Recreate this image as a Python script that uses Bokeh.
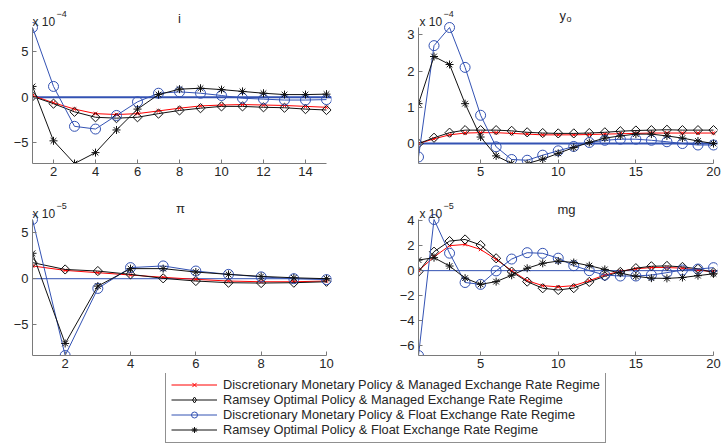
from bokeh.plotting import figure
from bokeh.layouts import column, row
from bokeh.models import Range1d, FixedTicker, Span, Label, Legend, LegendItem
from bokeh.embed import file_html
from bokeh.resources import INLINE

# ---------------- data ----------------
series_names = [
    "Discretionary Monetary Policy & Managed Exchange Rate Regime",
    "Ramsey Optimal Policy & Managed Exchange Rate Regime",
    "Discretionary Monetary Policy & Float Exchange Rate Regime",
    "Ramsey Optimal Policy & Float Exchange Rate Regime",
]

# panel "i"  (x 10^-4)
i_x = list(range(1, 16))
i_disc_managed = [0.2, -0.6, -1.3, -1.8, -1.9, -1.8, -1.5, -1.2, -0.95, -0.85, -0.8, -0.85, -0.9, -1.0, -1.1]
i_ramsey_managed = [0.1, -0.7, -1.6, -2.2, -2.3, -2.2, -1.8, -1.45, -1.2, -1.0, -1.0, -1.1, -1.15, -1.3, -1.4]
i_disc_float = [7.7, 1.2, -3.2, -3.5, -2.0, -0.5, 0.45, 0.6, 0.45, 0.2, -0.1, -0.2, -0.3, -0.3, -0.25]
i_ramsey_float = [1.2, -4.8, -7.3, -6.1, -3.6, -1.3, 0.3, 0.9, 1.0, 0.85, 0.65, 0.45, 0.3, 0.3, 0.35]
i_xticks = [2, 4, 6, 8, 10, 12, 14]
i_yticks = [-5, 0, 5]

# panel "y_o"  (x 10^-4)
yo_x = list(range(1, 21))
yo_disc_managed = [0.0, 0.13, 0.24, 0.29, 0.3, 0.3, 0.28, 0.26, 0.24, 0.24, 0.24, 0.25, 0.26, 0.27, 0.28, 0.29, 0.29, 0.29, 0.29, 0.29]
yo_ramsey_managed = [0.0, 0.16, 0.3, 0.37, 0.37, 0.37, 0.35, 0.31, 0.29, 0.28, 0.28, 0.29, 0.31, 0.34, 0.36, 0.37, 0.38, 0.37, 0.37, 0.37]
yo_disc_float = [-0.37, 2.7, 3.2, 2.1, 0.78, -0.09, -0.44, -0.46, -0.32, -0.2, -0.08, 0.03, 0.09, 0.12, 0.12, 0.09, 0.05, 0.0, -0.04, -0.04]
yo_ramsey_float = [1.1, 2.4, 2.18, 1.1, 0.18, -0.34, -0.55, -0.55, -0.43, -0.27, -0.11, 0.03, 0.15, 0.21, 0.26, 0.26, 0.21, 0.15, 0.07, 0.0]
yo_xticks = [5, 10, 15, 20]
yo_yticks = [0, 1, 2, 3]

# panel "pi"  (x 10^-5)
pi_x = list(range(1, 11))
pi_disc_managed = [1.38, 0.9, 0.65, 0.4, 0.15, -0.07, -0.25, -0.33, -0.33, -0.25]
pi_ramsey_managed = [1.74, 1.0, 0.83, 0.47, 0.04, -0.25, -0.43, -0.47, -0.43, -0.33]
pi_disc_float = [6.4, -8.3, -1.05, 1.2, 1.38, 0.83, 0.47, 0.2, 0.0, -0.1]
pi_ramsey_float = [2.75, -7.0, -0.8, 1.09, 1.09, 0.72, 0.47, 0.25, 0.1, 0.0]
pi_xticks = [2, 4, 6, 8, 10]
pi_yticks = [-5, 0, 5]

# panel "mg"  (x 10^-5)
mg_x = list(range(1, 21))
mg_disc_managed = [0.0, 1.1, 2.0, 2.1, 1.7, 0.9, 0.0, -0.8, -1.2, -1.3, -1.2, -0.8, -0.35, -0.05, 0.15, 0.25, 0.25, 0.2, 0.05, -0.1]
mg_ramsey_managed = [-0.08, 1.52, 2.37, 2.5, 2.05, 0.99, -0.08, -0.88, -1.41, -1.55, -1.4, -0.9, -0.45, -0.1, 0.2, 0.35, 0.38, 0.3, 0.15, -0.15]
mg_disc_float = [-6.8, 4.1, 1.4, -0.95, -1.1, -0.02, 0.93, 1.44, 1.39, 1.0, 0.4, 0.0, -0.35, -0.43, -0.43, -0.35, -0.16, 0.05, 0.13, 0.24]
mg_ramsey_float = [0.85, 1.04, 0.37, -0.6, -1.1, -0.88, -0.37, 0.19, 0.59, 0.77, 0.65, 0.4, 0.1, -0.2, -0.45, -0.6, -0.62, -0.55, -0.4, -0.25]
mg_xticks = [5, 10, 15, 20]
mg_yticks = [-6, -4, -2, 0, 2, 4]

# ---------------- styles ----------------
FONT = "Liberation Sans"
RED = "#ff0000"
BLACK = "#111111"
BLUE = "#3352b3"
AXIS = "#7a7a7a"
TEXT = "#262626"

STYLES = [
    dict(color=RED, marker="x", size=5, angle=0.0, lw=1.0),
    dict(color=BLACK, marker="square", size=6.5, angle=0.7854, lw=1.0),
    dict(color=BLUE, marker="circle", size=10, angle=0.0, lw=1.0),
    dict(color=BLACK, marker="asterisk", size=8, angle=0.0, lw=1.0),
]


def minus(v):
    return ("\u2212" + str(abs(v))) if v < 0 else str(v)


def panel(xs, ys_list, xticks, yticks, width, height, bl, br, bb,
          tight_w, tight_h, pad_r, pad_t, zero_w, texts):
    lo = min(min(s) for s in ys_list)
    hi = max(max(s) for s in ys_list)
    x0, x1 = xs[0], xs[-1]
    xr = Range1d(x0, x1 + pad_r * (x1 - x0) / tight_w)
    yr = Range1d(lo, hi + pad_t * (hi - lo) / tight_h)
    p = figure(width=width, height=height, x_range=xr, y_range=yr,
               output_backend="svg", toolbar_location=None,
               min_border_left=bl, min_border_right=br,
               min_border_top=0, min_border_bottom=bb,
               outline_line_color=None, background_fill_color="white",
               border_fill_color="white")
    p.grid.visible = False
    p.xaxis.ticker = FixedTicker(ticks=xticks)
    p.yaxis.ticker = FixedTicker(ticks=yticks)
    p.xaxis.bounds = (x0, x1)
    p.yaxis.bounds = (lo, hi)
    p.yaxis.major_label_overrides = {t: minus(t) for t in yticks}
    for ax in p.axis:
        ax.axis_line_color = AXIS
        ax.axis_line_width = 1
        ax.major_tick_line_color = AXIS
        ax.major_tick_in = 4
        ax.major_tick_out = 0
        ax.minor_tick_line_color = None
        ax.major_label_text_font = FONT
        ax.major_label_text_font_size = "13px"
        ax.major_label_text_color = TEXT
    p.xaxis.major_label_standoff = 3
    p.yaxis.major_label_standoff = 4

    p.add_layout(Span(location=0, dimension="width", line_color=BLUE,
                      line_width=zero_w, level="underlay"))
    for ys, st in zip(ys_list, STYLES):
        p.line(xs, ys, line_color=st["color"], line_width=st["lw"])
        p.scatter(xs, ys, marker=st["marker"], size=st["size"], angle=st["angle"],
                  line_color=st["color"], fill_color=None, line_width=1)

    for (txt, x, y, size, align) in texts:
        p.add_layout(Label(x=x, y=y, x_units="screen", y_units="screen", text=txt,
                           text_font=FONT, text_font_size=size, text_color=TEXT,
                           text_align=align, text_baseline="alphabetic"))
    return p


# row 1 (page y 0..196): tight frame 27..163, titles above inside the frame
p1 = panel(i_x, [i_disc_managed, i_ramsey_managed, i_disc_float, i_ramsey_float],
           i_xticks, i_yticks, 386, 196, 32, 55, 33, 294, 136, 5, 27, 2,
           [("i", 147, 145, "13px", "center"),
            ("x 10", 0, 142, "12px", "left"),
            ("\u22124", 24, 150, "9px", "left")])

p2 = panel(yo_x, [yo_disc_managed, yo_ramsey_managed, yo_disc_float, yo_ramsey_float],
           yo_xticks, yo_yticks, 335, 196, 32, 4, 33, 295, 136, 4, 27, 2,
           [("y", 141, 148, "13px", "left"),
            ("o", 148, 145, "9px", "left"),
            ("x 10", 1, 142, "12px", "left"),
            ("\u22124", 25, 150, "9px", "left")])

# row 2 (page y 196..373): tight frame 219..355
p3 = panel(pi_x, [pi_disc_managed, pi_ramsey_managed, pi_disc_float, pi_ramsey_float],
           pi_xticks, pi_yticks, 386, 177, 32, 55, 18, 294, 136, 5, 23, 1,
           [("\u03c0", 148, 147, "13px", "center"),
            ("x 10", 0, 142, "12px", "left"),
            ("\u22125", 24, 150, "9px", "left")])

p4 = panel(mg_x, [mg_disc_managed, mg_ramsey_managed, mg_disc_float, mg_ramsey_float],
           mg_xticks, mg_yticks, 335, 177, 32, 4, 18, 295, 136, 4, 23, 1,
           [("mg", 148, 146, "13px", "center"),
            ("x 10", 1, 142, "12px", "left"),
            ("\u22125", 25, 150, "9px", "left")])

# ---------------- legend row ----------------
lg = figure(width=721, height=70, x_range=Range1d(100, 101), y_range=Range1d(100, 101),
            output_backend="svg", toolbar_location=None, min_border=0,
            x_axis_location=None, y_axis_location=None, outline_line_color=None)
lg.grid.visible = False
LEGEND_MARKS = [("x", 5), ("diamond", 10), ("circle", 8), ("asterisk", 6)]
legend_data = [i_disc_managed, i_ramsey_managed, i_disc_float, i_ramsey_float]
items = []
for name, st, (mk, ms), ys in zip(series_names, STYLES, LEGEND_MARKS, legend_data):
    r1 = lg.line(i_x, ys, line_color=st["color"], line_width=1)
    r2 = lg.scatter(i_x, ys, marker=mk, size=ms,
                    line_color=st["color"], fill_color=None, line_width=1)
    items.append(LegendItem(label=name, renderers=[r1, r2]))
leg = Legend(items=items, location=(165, 0), margin=0, padding=5, spacing=0,
             label_text_font=FONT, label_text_font_size="12.8px", label_text_color=TEXT,
             label_height=15, glyph_height=15, glyph_width=46, label_standoff=6,
             border_line_color="#222222", border_line_width=1,
             background_fill_color="white", background_fill_alpha=1.0,
             click_policy="none")
lg.add_layout(leg)

layout = column(row(p1, p2), row(p3, p4), lg)
open("out.html", "w").write(file_html(layout, INLINE))
